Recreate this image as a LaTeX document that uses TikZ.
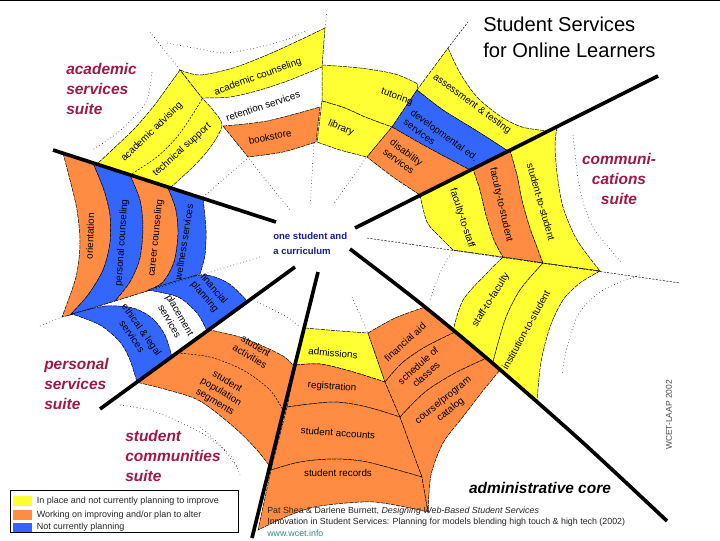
\documentclass[tikz,border=0pt]{standalone}
\usepackage{fontspec}
\setmainfont{Liberation Sans}
\usepackage{xcolor}
\usepackage{tikz}
\usetikzlibrary{positioning}

\definecolor{webyellow}{HTML}{FFFF33}
\definecolor{weborange}{HTML}{FF8C42}
\definecolor{webblue}{HTML}{3366FF}
\definecolor{suitered}{HTML}{A01848}
\definecolor{hubnavy}{HTML}{141E8C}
\definecolor{wcetteal}{HTML}{2E8B8B}

\begin{document}
\begin{tikzpicture}[x=0.025cm,y=-0.025cm,
    cell/.style={draw=black,line width=0.35pt,dash pattern=on 3pt off 0.7pt},
    yel/.style={cell,fill=webyellow},
    org/.style={cell,fill=weborange},
    blu/.style={cell,fill=webblue},
    divide/.style={line width=0.35pt,dash pattern=on 1.5pt off 1pt},
    thread/.style={line width=0.4pt,dotted},
    spoke/.style={line width=2.6pt},
    lbl/.style={font=\fontsize{7}{8.4}\selectfont,inner sep=0pt,align=center},
    suite/.style={font=\fontsize{11}{14.2}\selectfont\bfseries\itshape,text=suitered,inner sep=0pt},
    swatch/.style={minimum width=0.48cm,minimum height=0.23cm,inner sep=0pt},
    keytext/.style={font=\fontsize{6.4}{7}\selectfont,text=black!85,inner sep=0pt},
    source/.style={font=\fontsize{6.3}{7}\selectfont,text=black!85,anchor=west,inner sep=0pt}]
    \useasboundingbox (0,0) rectangle (720,540);
    \draw[line width=1.2pt] (0,0.6) -- (720,0.6);

    % web threads in the white gaps
    \draw[thread] (150,32) -- (180,70);
    \draw[thread] plot[smooth] coordinates {(167,43) (200,49) (225,53) (255,48) (285,40) (308,30)};
    \draw[thread] (325,28) -- (327,10);
    \draw[thread] plot[smooth] coordinates {(152,72) (147,100) (133,118) (115,135) (92,150)};
    \draw[thread] plot[smooth] coordinates {(203,197) (225,178) (248,158)};
    \draw[thread] (249,159) -- (290,210);
    \draw[thread] (314,143) -- (310,207);
    \draw[thread] (366,158) -- (333,205);
    \draw[divide] (448,48) -- (468,22);
    \draw[thread] plot[smooth] coordinates {(573,135) (580,190) (593,227) (622,263)};
    \draw[thread] plot[smooth] coordinates {(640,275) (603,290) (579,313) (567,347) (562,375)};
    \draw[thread] plot[smooth] coordinates {(453,250) (440,273) (430,300)};
    \draw[thread] (352,297) -- (368,333);
    \draw[thread] plot[smooth] coordinates {(257,302) (287,317) (300,327)};
    \draw[thread] plot[smooth] coordinates {(120,405) (150,410) (175,420) (205,435) (230,455) (240,475)};
    \draw[thread] plot[smooth] coordinates {(200,427) (220,445) (237,467)};
    \draw[thread] (40,326) -- (62,317);

    % academic services suite
    \filldraw[yel] plot[smooth] coordinates {(180,70) (200,75) (233,68) (267,55) (300,40) (325,28)} -- (322,67)
        -- plot[smooth] coordinates {(322,67) (290,80) (260,90) (230,97) (202,98)} -- cycle;
    \filldraw[yel] plot[smooth] coordinates {(180,70) (167,88) (153,107) (133,130) (97,164)} -- (170,188)
        -- plot[smooth] coordinates {(170,188) (195,165) (212,145) (222,125) (213,110) (202,98)} -- cycle;
    \draw[divide] plot[smooth] coordinates {(202,99) (193,114) (177,137) (157,157) (130,175)};
    \filldraw[org] plot[smooth] coordinates {(223,126) (267,121) (320,107)} -- (316,142)
        -- plot[smooth] coordinates {(316,142) (283,152) (248,157)} -- cycle;
    \filldraw[yel] plot[smooth] coordinates {(322,65) (360,68) (395,74) (418,84)} -- (417,90) -- (392,127)
        -- plot[smooth] coordinates {(392,127) (365,117) (345,108) (322,101)} -- cycle;
    \filldraw[yel] plot[smooth] coordinates {(322,101) (345,108) (365,117) (392,127)} -- (367,157)
        -- plot[smooth] coordinates {(367,157) (340,150) (317,142)} -- cycle;
    \filldraw[yel] plot[smooth] coordinates {(448,48) (460,73) (477,97) (500,116) (522,127) (548,131)} -- (508,151)
        -- plot[smooth] coordinates {(508,151) (477,131) (443,110) (417,90)} -- cycle;
    \filldraw[blu] plot[smooth] coordinates {(417,90) (443,110) (477,131) (508,151)} -- (470,170)
        -- plot[smooth] coordinates {(470,170) (427,147) (392,127)} -- cycle;
    \filldraw[org] plot[smooth] coordinates {(392,127) (427,147) (470,170)} -- (420,195)
        -- plot[smooth] coordinates {(420,195) (393,177) (367,157)} -- cycle;

    % communications suite
    \filldraw[yel] (420,195) -- (473,169) -- plot[smooth] coordinates {(473,169) (480,190) (486,215) (494,240) (503,257)} -- (453,250)
        -- plot[smooth] coordinates {(453,250) (440,237) (427,222) (420,195)} -- cycle;
    \filldraw[org] (473,169) -- (510,150) -- plot[smooth] coordinates {(510,150) (517,175) (522,200) (530,228) (543,263)} -- (503,257)
        -- plot[smooth] coordinates {(503,257) (494,240) (486,215) (480,190) (473,169)} -- cycle;
    \filldraw[yel] (510,150) -- (557,127) -- plot[smooth] coordinates {(557,127) (555,145) (557,173) (563,207) (577,240) (600,271)} -- (543,263)
        -- plot[smooth] coordinates {(543,263) (530,228) (522,200) (517,175) (510,150)} -- cycle;
    \filldraw[yel] (503,257) -- (543,263) -- plot[smooth] coordinates {(543,263) (520,290) (505,320) (493,362)} -- (453,331)
        -- plot[smooth] coordinates {(453,331) (463,300) (487,273) (503,257)} -- cycle;
    \filldraw[yel] (543,263) -- (600,271) -- plot[smooth] coordinates {(600,271) (580,283) (563,300) (550,327) (541,362) (537,401)} -- (493,362)
        -- plot[smooth] coordinates {(493,362) (505,320) (520,290) (543,263)} -- cycle;

    % administrative core
    \filldraw[yel] plot[smooth] coordinates {(305,328) (340,331) (368,333)} -- (385,382)
        -- plot[smooth] coordinates {(385,382) (350,371) (320,364) (296,365)} -- cycle;
    \filldraw[org] plot[smooth] coordinates {(296,365) (320,364) (350,371) (385,382)} -- (400,417)
        -- plot[smooth] coordinates {(400,417) (367,407) (333,402) (287,407)} -- cycle;
    \filldraw[org] plot[smooth] coordinates {(287,407) (333,402) (367,407) (400,417)} -- (422,477)
        -- plot[smooth] coordinates {(422,477) (367,462) (333,459) (300,462) (271,470)} -- cycle;
    \filldraw[org] plot[smooth] coordinates {(271,470) (300,462) (333,459) (367,462) (422,477)} -- (428,512)
        -- plot[smooth] coordinates {(428,512) (374,502) (320,506) (290,515) (258,530)} -- cycle;
    \filldraw[org] plot[smooth] coordinates {(368,333) (395,318) (425,307)} -- (455,332)
        -- plot[smooth] coordinates {(455,332) (425,347) (402,363) (385,382)} -- cycle;
    \filldraw[org] plot[smooth] coordinates {(385,382) (402,363) (425,347) (455,332)} -- (487,358)
        -- plot[smooth] coordinates {(487,358) (455,373) (425,392) (400,417)} -- cycle;
    \filldraw[org] plot[smooth] coordinates {(400,417) (425,392) (455,373) (487,358)} -- (500,370)
        -- plot[smooth] coordinates {(500,370) (482,392) (462,418) (443,443) (431,475) (428,512)} -- (422,477) -- cycle;

    % student communities suite
    \filldraw[org] (136,382) -- (210,330) -- plot[smooth] coordinates {(210,330) (240,337) (267,348) (286,358) (295,368)} -- (271,468)
        -- plot[smooth] coordinates {(271,468) (257,450) (235,428) (200,401) (168,390) (136,382)} -- cycle;
    \draw[divide] plot[smooth] coordinates {(177,353) (210,357) (243,370) (270,390) (284,412)};

    % personal services suite
    \filldraw[org] plot[smooth] coordinates {(63,153) (70,180) (77,210) (80,243) (76,277) (62,317)} -- (70,315)
        -- plot[smooth] coordinates {(70,315) (88,295) (103,270) (110,243) (110,215) (104,190) (93,163)} -- cycle;
    \filldraw[blu] plot[smooth] coordinates {(93,163) (104,190) (110,215) (110,243) (103,270) (88,295) (70,315)} -- (115,301)
        -- plot[smooth] coordinates {(115,301) (130,282) (140,258) (143,227) (140,200) (130,175)} -- cycle;
    \filldraw[org] plot[smooth] coordinates {(130,175) (140,200) (143,227) (140,258) (130,282) (115,301)} -- (147,291)
        -- plot[smooth] coordinates {(147,291) (163,282) (174,262) (178,235) (176,210) (168,188)} -- cycle;
    \filldraw[blu] plot[smooth] coordinates {(168,188) (176,210) (178,235) (174,262) (163,282) (147,291)} -- (200,274)
        -- plot[smooth] coordinates {(200,274) (205,255) (206,230) (203,198)} -- cycle;
    \filldraw[blu] plot[smooth] coordinates {(148,290) (200,275) (228,283) (248,302)} -- (207,331)
        -- plot[smooth] coordinates {(207,331) (197,313) (178,297) (148,290)} -- cycle;
    \filldraw[blu] plot[smooth] coordinates {(72,314) (105,306) (133,308) (152,318) (165,335) (172,357)} -- (137,382)
        -- plot[smooth] coordinates {(137,382) (130,360) (120,342) (100,325) (72,314)} -- cycle;

    % radial threads over the cells
    \draw[thread] (72,314) -- (260,257);
    \draw[divide] (367,238) -- (680,283);

    % the five thick spokes
    \draw[spoke] (53,150) -- (276,222);
    \draw[spoke] (355,228) -- (658,76);
    \draw[spoke] plot[smooth] coordinates {(350,249) (420,303) (490,361) (580,440) (667,521)};
    \draw[spoke] (318,272) -- (252,538);
    \draw[spoke] (295,267) -- (100,409);

    % cell labels
    \node[lbl,rotate=20] (acouns) at (258,77) {academic counseling};
    \node[lbl,rotate=18] (retent) at (263,106) {retention services};
    \node[lbl,rotate=12] (books) at (270,137) {bookstore};
    \node[lbl,rotate=44] (aadvis) at (152,132) {academic advising};
    \node[lbl,rotate=42] (techsup) at (182,150) {technical support};
    \node[lbl,rotate=-20] (tutor) at (397,97) {tutoring};
    \node[lbl,rotate=-22] (lib) at (341,128) {library};
    \node[lbl,rotate=-36] (assess) at (472,104) {assessment \& testing};
    \node[lbl,rotate=-36,align=left] (develop) at (441,140) {developmental ed.\\services};
    \node[lbl,rotate=-37,align=left] (disab) at (403,157) {disability\\services};
    \node[lbl,rotate=-72] (fstaff) at (462,218) {faculty-to-staff};
    \node[lbl,rotate=-77] (fstud) at (501,205) {faculty-to-student};
    \node[lbl,rotate=-74] (sstud) at (541,202) {student-to-student};
    \node[lbl,rotate=58] (stafff) at (491,300) {staff-to-faculty};
    \node[lbl,rotate=61] (insts) at (526,330) {institution-to-student};
    \node[lbl,rotate=-5] (admis) at (333,353) {admissions};
    \node[lbl,rotate=-4] (regis) at (332,387) {registration};
    \node[lbl,rotate=-4] (accts) at (338,433) {student accounts};
    \node[lbl] (recs) at (338,473) {student records};
    \node[lbl,rotate=42] (finaid) at (405,342) {financial aid};
    \node[lbl,rotate=42] (sched) at (422,370) {schedule of\\classes};
    \node[lbl,rotate=39] (catal) at (447,405) {course/program\\catalog};
    \node[lbl,rotate=-31] (sactiv) at (253,351) {student\\activities};
    \node[lbl,rotate=-31] (spop) at (221,392) {student\\population\\segments};
    \node[lbl,rotate=88] (orient) at (90,236) {orientation};
    \node[lbl,rotate=86] (pcouns) at (122,243) {personal counseling};
    \node[lbl,rotate=84] (ccouns) at (156,238) {career counseling};
    \node[lbl,rotate=81] (well) at (184,242) {wellness services};
    \node[lbl,rotate=-50] (finplan) at (209,293) {financial\\planning};
    \node[lbl,rotate=-60] (place) at (175,318) {placement\\services};
    \node[lbl,rotate=-55] (ethic) at (137,333) {ethical \& legal\\services};

    % suite names, hub and title
    \node[suite,anchor=north west,align=left] (acadsuite) at (66,63) {academic\\services\\suite};
    \node[suite,anchor=north,align=center] (commsuite) at (619,153) {communi-\\cations\\suite};
    \node[suite,anchor=north west,align=left] (perssuite) at (44,358) {personal\\services\\suite};
    \node[suite,anchor=north west,align=left] (studsuite) at (125,430) {student\\communities\\suite};
    \node[font=\fontsize{11}{13}\selectfont\bfseries\itshape,inner sep=0pt] (core) at (540,488) {administrative core};
    \node[font=\fontsize{6.8}{10.6}\selectfont\bfseries,text=hubnavy,align=left,anchor=north west,inner sep=0pt] (hub) at (273,232) {one student and\\a curriculum};
    \node[font=\fontsize{14.3}{18.4}\selectfont,align=left,anchor=north west,inner sep=0pt] (title) at (483,17) {Student Services\\for Online Learners};

    % legend
    \draw[line width=0.5pt] (10,490) rectangle (238,532);
    \node[swatch,fill=webyellow] (keyyel) at (22.5,501) {};
    \node[swatch,fill=weborange] (keyorg) at (22.5,515) {};
    \node[swatch,fill=webblue] (keyblu) at (22.5,527.5) {};
    \node[keytext,right=3pt of keyyel] {In place and not currently planning to improve};
    \node[keytext,right=3pt of keyorg] {Working on improving and/or plan to alter};
    \node[keytext,right=3pt of keyblu] {Not currently planning};

    % source
    \node[source] (src1) at (267,511) {Pat Shea \& Darlene Burnett, \textit{Designing Web-Based Student Services}};
    \node[source] (src2) at (267,522) {Innovation in Student Services: Planning for models blending high touch \& high tech (2002)};
    \node[source,text=wcetteal] (src3) at (267,533) {www.wcet.info};
    \node[font=\fontsize{6}{7}\selectfont,text=black!70,rotate=90,inner sep=0pt] (wcet) at (669,415) {WCET-LAAP 2002};
\end{tikzpicture}
\end{document}
